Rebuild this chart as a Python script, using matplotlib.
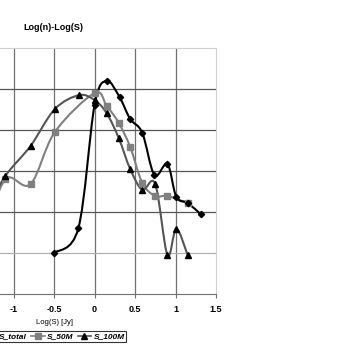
import numpy as np
import matplotlib
matplotlib.use("Agg")
import matplotlib.pyplot as plt
from matplotlib.path import Path
from matplotlib.patches import PathPatch
from matplotlib.lines import Line2D

plt.rcParams['font.family'] = ['Liberation Sans', 'DejaVu Sans']

# Log(S) [Jy] and Log(n) (vertical scale in grid units, axis labels are off-picture)
x_total = [-0.5, -0.2, 0.0, 0.15, 0.31, 0.44, 0.59, 0.74, 0.9, 1.01, 1.15, 1.31]
y_total = [1.0, 1.6, 4.6, 5.2, 4.8, 4.27, 3.93, 2.9, 3.17, 2.37, 2.22, 1.95]

x_50 = [-1.35, -1.1, -0.79, -0.49, 0.0, 0.15, 0.3, 0.44, 0.59, 0.75, 0.9, 1.15]
y_50 = [1.5, 2.8, 2.68, 3.95, 4.9, 4.59, 4.17, 3.59, 2.71, 2.39, 2.39, 2.22]

x_100 = [-1.35, -1.1, -0.79, -0.49, -0.19, 0.0, 0.15, 0.3, 0.44, 0.59, 0.75, 0.9, 1.01, 1.15]
y_100 = [2.0, 2.88, 3.61, 4.51, 4.85, 4.73, 4.41, 3.8, 3.05, 2.54, 2.68, 0.95, 1.59, 0.95]


def smooth_path(xs, ys):
    # Excel-like smoothed line: cubic Bezier segments (Catmull-Rom control points)
    p = np.column_stack([xs, ys])
    n = len(p)
    verts = [p[0]]
    codes = [Path.MOVETO]
    for i in range(n - 1):
        p0 = p[i - 1] if i > 0 else p[i]
        p1 = p[i]
        p2 = p[i + 1]
        p3 = p[i + 2] if i + 2 < n else p[i + 1]
        verts += [p1 + (p2 - p0) / 6.0, p2 - (p3 - p1) / 6.0, p2]
        codes += [Path.CURVE4] * 3
    return Path(verts, codes)


fig = plt.figure(figsize=(3.63, 3.48), dpi=100)
ax = fig.add_axes([-108 / 363, 54 / 348, 324 / 363, 246 / 348])
ax.set_xlim(-2.5, 1.5)
ax.set_ylim(0, 6)

for xv in np.arange(-2.0, 1.5, 0.5):
    ax.axvline(xv, color='#707070', lw=0.9, zorder=1)
for yv in [2, 3, 4, 5]:
    ax.axhline(yv, color='#555555', lw=0.9, zorder=1)
ax.axhline(1, color='#b0b0b0', lw=0.9, zorder=1)

for s in ['top', 'right']:
    ax.spines[s].set_color('#d0d0d0')
ax.spines['bottom'].set_color('#707070')
ax.spines['left'].set_visible(False)

series = [
    (x_50, y_50, '#808080', 's', '#808080', 4.2, 'S_50M'),
    (x_100, y_100, '#555555', '^', 'black', 4.6, 'S_100M'),
    (x_total, y_total, 'black', 'D', 'black', 3.2, 'S_total'),
]
for xs, ys, lc, mk, mc, ms, name in series:
    ax.add_patch(PathPatch(smooth_path(xs, ys), facecolor='none', edgecolor=lc,
                           lw=1.5, zorder=3))
    ax.plot(xs, ys, linestyle='none', marker=mk, color=mc, markersize=ms, zorder=4)

ax.set_xticks([-1, -0.5, 0, 0.5, 1, 1.5])
ax.set_xticklabels(['-1', '-0.5', '0', '0.5', '1', '1.5'])
ax.tick_params(axis='x', length=3, color='#707070', labelsize=6.5, pad=5)
ax.set_yticks([])
for t in ax.get_xticklabels():
    t.set_fontweight('bold')

fig.text(55 / 363, 1 - 322 / 348, 'Log(S) [Jy]', ha='center', va='center', fontsize=5.5)
fig.text(53 / 363, 1 - 27 / 348, 'Log(n)-Log(S)', ha='center', va='center',
         fontsize=6.5, fontweight='bold')

handles = [
    Line2D([], [], color='black', marker='D', markersize=3.2, lw=1.2),
    Line2D([], [], color='#808080', marker='s', markersize=4, lw=1.2),
    Line2D([], [], color='#555555', marker='^', markerfacecolor='black',
           markeredgecolor='black', markersize=4.5, lw=1.2),
]
leg = fig.legend(handles, ['S_total', 'S_50M', 'S_100M'], ncol=3, loc='center',
                 bbox_to_anchor=(54 / 363, 1 - 336.5 / 348), frameon=True,
                 fancybox=False, edgecolor='black', handlelength=1.6,
                 handletextpad=0.3, columnspacing=0.5, borderpad=0.2,
                 prop={'size': 6, 'style': 'italic', 'weight': 'bold'})
leg.get_frame().set_linewidth(0.8)

fig.savefig('out.png', dpi=100)
